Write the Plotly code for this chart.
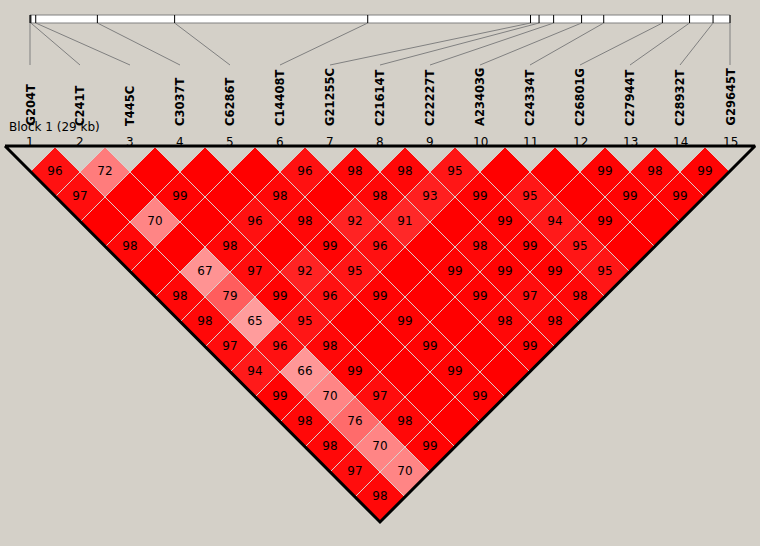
import plotly.graph_objects as go

# Marker names and physical positions (bp)
markers = ["G204T", "C241T", "T445C", "C3037T", "C6286T", "C14408T", "G21255C", "C21614T",
           "C22227T", "A23403G", "C24334T", "C26801G", "C27944T", "C28932T", "G29645T"]
positions = [204, 241, 445, 3037, 6286, 14408, 21255, 21614, 22227, 23403, 24334, 26801,
             27944, 28932, 29645]
block_label = "Block 1 (29 kb)"

# D' (x100) for marker i against markers i+1..15; 100 = complete LD (no number shown)
dprime = [
    [96, 97, 100, 98, 100, 98, 98, 97, 94, 99, 98, 98, 97, 98],
    [72, 100, 70, 100, 67, 79, 65, 96, 66, 70, 76, 70, 70],
    [100, 99, 100, 98, 97, 99, 95, 98, 99, 97, 98, 99],
    [100, 100, 96, 100, 92, 96, 100, 100, 100, 100, 100],
    [100, 98, 98, 99, 95, 99, 99, 99, 99, 99],
    [96, 100, 92, 96, 100, 100, 100, 100, 100],
    [98, 98, 91, 100, 99, 99, 98, 99],
    [98, 93, 100, 98, 99, 97, 98],
    [95, 99, 99, 99, 99, 98],
    [100, 95, 94, 95, 95],
    [100, 100, 99, 100],
    [99, 99, 100],
    [98, 99],
    [99],
]

BG = "#D4D0C8"
n = len(markers)
x0, step = 30, 50          # screen x of marker 1, spacing between markers
half = step / 2
top = 147                  # y of the triangle's top edge
bar_top, bar_bot = 15, 23  # physical map bar
lab_top = 65

mx = [x0 + step * k for k in range(n)]
span = positions[-1] - positions[0]
px = [x0 + (p - positions[0]) / span * step * (n - 1) for p in positions]


def cell_color(v):
    if v >= 100:
        return "rgb(255,0,0)"
    g = min(255, int((255 - 32) * 2 * (1 - v / 100)))
    return f"rgb(255,{g},{g})"


fig = go.Figure()

# LD diamonds
tx, ty, tt = [], [], []
for i, row in enumerate(dprime):
    for k, v in enumerate(row):
        j = i + k + 1
        d = j - i
        cx = (mx[i] + mx[j]) / 2
        cy = top + half * d
        fig.add_trace(go.Scatter(
            x=[cx, cx + half, cx, cx - half, cx],
            y=[cy - half, cy, cy + half, cy, cy - half],
            mode="lines", fill="toself", fillcolor=cell_color(v),
            line=dict(color="#D8D4D0", width=1), hoverinfo="skip", showlegend=False))
        if v < 100:
            tx.append(cx)
            ty.append(cy)
            tt.append(str(v))

fig.add_trace(go.Scatter(x=tx, y=ty, text=tt, mode="text",
                         textfont=dict(family="DejaVu Sans", size=12, color="black"),
                         hoverinfo="skip", showlegend=False))

# triangle outline
left = mx[0] - half
right = mx[-1] + half
fig.add_trace(go.Scatter(
    x=[left, right, (left + right) / 2, left],
    y=[top - 1, top - 1, top + half * n, top - 1],
    mode="lines", line=dict(color="black", width=3), hoverinfo="skip", showlegend=False))

# physical map bar
fig.add_trace(go.Scatter(
    x=[px[0], px[-1], px[-1], px[0], px[0]],
    y=[bar_top, bar_top, bar_bot, bar_bot, bar_top],
    mode="lines", fill="toself", fillcolor="white",
    line=dict(color="#808080", width=1), hoverinfo="skip", showlegend=False))

tick_x, tick_y, con_x, con_y = [], [], [], []
for k in range(n):
    tick_x += [px[k], px[k], None]
    tick_y += [bar_top, bar_bot, None]
    con_x += [px[k], mx[k], None]
    con_y += [bar_bot, lab_top, None]

fig.add_trace(go.Scatter(x=con_x, y=con_y, mode="lines",
                         line=dict(color="#808080", width=1),
                         hoverinfo="skip", showlegend=False))
fig.add_trace(go.Scatter(x=tick_x, y=tick_y, mode="lines",
                         line=dict(color="black", width=1),
                         hoverinfo="skip", showlegend=False))

# marker names and numbers
for k in range(n):
    fig.add_annotation(x=mx[k], y=128, text=f"<b>{markers[k]}</b>", textangle=-90,
                       xanchor="center", yanchor="bottom", showarrow=False,
                       font=dict(family="DejaVu Sans", size=11.5, color="black"))
    fig.add_annotation(x=mx[k], y=142, text=str(k + 1), xanchor="center", yanchor="middle",
                       showarrow=False, font=dict(family="DejaVu Sans", size=12, color="black"))

fig.add_annotation(x=7, y=127, text=block_label, xanchor="left", yanchor="middle",
                   showarrow=False, font=dict(family="DejaVu Sans", size=12, color="black"))

fig.update_layout(
    width=760, height=546,
    margin=dict(l=0, r=0, t=0, b=0),
    paper_bgcolor=BG, plot_bgcolor=BG,
    xaxis=dict(range=[0, 760], visible=False, fixedrange=True),
    yaxis=dict(range=[546, 0], visible=False, fixedrange=True),
)

fig.write_html("out.html", config={"displayModeBar": False},
               post_script="document.body.style.margin='0';document.body.style.overflow='hidden';")
